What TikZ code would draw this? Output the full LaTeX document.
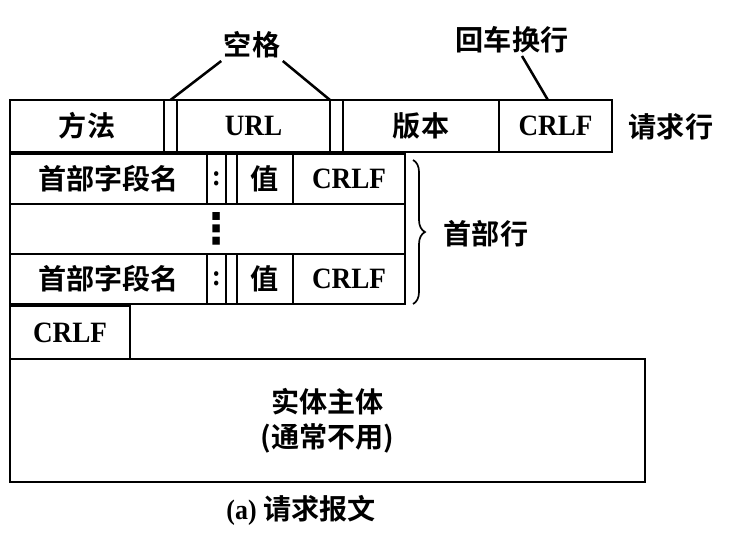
\documentclass[tikz,border=0pt]{standalone}
\usepackage{fontspec}
\setmainfont[FakeStretch=0.92]{Liberation Serif}
\newfontfamily\zhfont[BoldFont={* Bold}]{Noto Sans CJK SC}
\newfontfamily\symfont{DejaVu Sans}
\usepackage{tikz}
\usetikzlibrary{positioning,decorations.pathreplacing}
\tikzset {
    style A/.style={
        draw=black,
        line width=1.8pt,
        rectangle, % Set the shape as a rectangle
        inner sep=0pt,
        outer sep=0pt,
        align=center,
        font=\fontsize{21}{24}\selectfont\bfseries,
    },
    style B/.style={
        style A,
        font=\fontsize{20}{25}\selectfont\zhfont\bfseries,
    },
    style C/.style={
        font=\fontsize{20}{24}\selectfont\zhfont\bfseries,
        inner sep=1pt,
    },
}

\begin{document}
\begin{tikzpicture}[line width=1.8pt]
    \useasboundingbox (0,0) rectangle (18.775,-13.825);

    % request line
    \node[style B, minimum width=3.85cm, minimum height=1.3cm] at (2.175,-3.15) (method) {方法};
    \node[style A, minimum width=0.325cm, minimum height=1.3cm] at (4.2625,-3.15) (sp1) {};
    \node[style A, minimum width=3.825cm, minimum height=1.3cm] at (6.3375,-3.15) (url) {URL};
    \node[style A, minimum width=0.325cm, minimum height=1.3cm] at (8.4125,-3.15) (sp2) {};
    \node[style B, minimum width=3.9cm, minimum height=1.3cm] at (10.525,-3.15) (version) {版本};
    \node[style A, minimum width=2.825cm, minimum height=1.3cm] at (13.8875,-3.15) (crlfA) {CRLF};
    \node[style C] at (16.775,-3.175) (reqline) {请求行};

    \node[style C] at (6.3,-1.125) (space) {空格};
    \node[style C] at (12.8,-1.0) (crlflabel) {回车换行};
    \draw (space.south west) -- (sp1.north);
    \draw (space.south east) -- (sp2.north west);
    \draw ([xshift=0.25cm]crlflabel.south) -- ([xshift=-0.19cm]crlfA.north);

    % header lines
    \node[style B, minimum width=4.925cm, minimum height=1.25cm] at (2.7125,-4.475) (name1) {首部字段名};
    \node[style A, minimum width=0.475cm, minimum height=1.25cm] at (5.4125,-4.475) (colon1) {:};
    \node[style A, minimum width=0.275cm, minimum height=1.25cm] at (5.7875,-4.475) (gap1) {};
    \node[style B, minimum width=1.4cm, minimum height=1.25cm] at (6.625,-4.475) (value1) {值};
    \node[style A, minimum width=2.8cm, minimum height=1.25cm] at (8.725,-4.475) (crlf1) {CRLF};

    \node[style A, minimum width=9.875cm, minimum height=1.25cm] at (5.1875,-5.725) (dotsrow) {};
    \node[font=\fontsize{30}{30}\selectfont\symfont\bfseries, inner sep=0pt] at (5.4125,-5.725) (vdots) {⋮};

    \node[style B, minimum width=4.925cm, minimum height=1.25cm] at (2.7125,-6.975) (name3) {首部字段名};
    \node[style A, minimum width=0.475cm, minimum height=1.25cm] at (5.4125,-6.975) (colon3) {:};
    \node[style A, minimum width=0.275cm, minimum height=1.25cm] at (5.7875,-6.975) (gap3) {};
    \node[style B, minimum width=1.4cm, minimum height=1.25cm] at (6.625,-6.975) (value3) {值};
    \node[style A, minimum width=2.8cm, minimum height=1.25cm] at (8.725,-6.975) (crlf3) {CRLF};

    \draw[line width=1.2pt, decorate, decoration={brace, amplitude=0.3cm}]
        ([xshift=0.2cm,yshift=-0.15cm]crlf1.north east) -- ([xshift=0.2cm]crlf3.south east);
    \node[style C] at (12.15,-5.85) (header) {首部行};

    % empty line and body
    \node[style A, minimum width=3.0cm, minimum height=1.325cm] at (1.75,-8.3125) (crlfC) {CRLF};
    \node[style B, minimum width=15.875cm, minimum height=3.075cm] at (8.1875,-10.5125) (body) {实体主体\\(通常不用)};

    \node[style C] at (7.525,-12.75) (caption) {{\rmfamily(a)} 请求报文};
\end{tikzpicture}
\end{document}
